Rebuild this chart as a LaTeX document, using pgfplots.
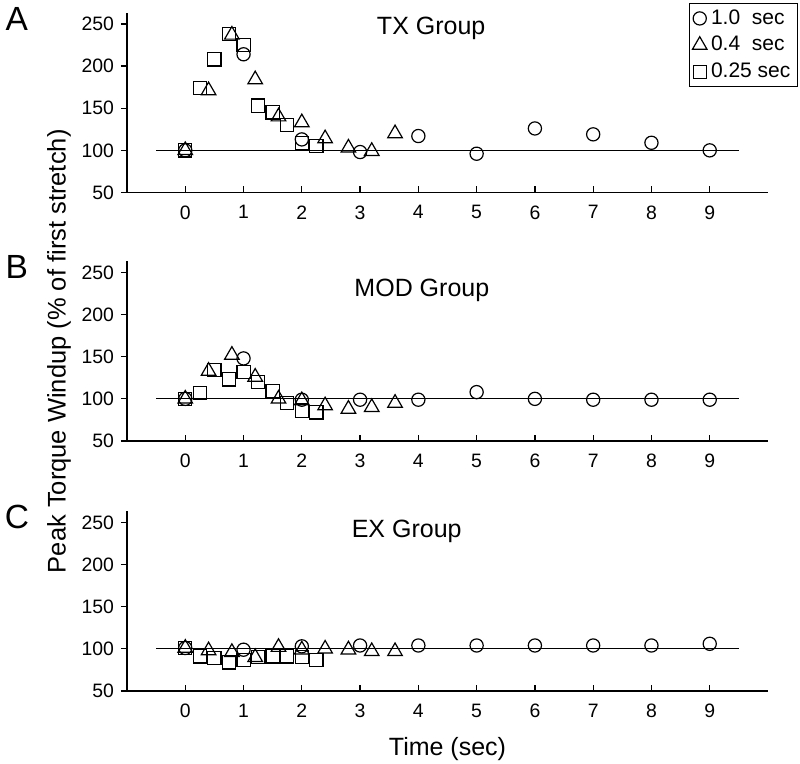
\documentclass[border=0pt]{standalone}
\usepackage{fontspec}
\setmainfont{Liberation Sans}
\usepackage{pgfplots}
\pgfplotsset{compat=1.18}
\pgfplotsset{
  panel/.style={
    scale only axis, width=320.5pt, height=89.75pt,
    xmin=-1, xmax=10, ymin=50, ymax=263,
    axis x line=bottom, axis y line=left,
    axis line style={-, line width=0.6pt},
    xtick={0,...,9}, ytick={50,100,...,250},
    xtick align=inside, ytick align=outside,
    major tick length=3pt,
    tick style={black, line width=0.6pt},
    tick label style={font=\fontsize{9.7}{11}\selectfont},
    xticklabel style={yshift=-3pt},
    /pgf/number format/assume math mode=true,
    clip=false,
  },
  circ/.style={only marks, mark=o, mark size=3.3pt, mark options={line width=0.6pt, draw=black, fill=none}},
  tri/.style={only marks, mark=triangle, mark size=4.2pt, mark options={line width=0.6pt, draw=black, fill=none}},
  sq/.style={only marks, mark=square, mark size=3.3pt, mark options={line width=0.6pt, draw=black, fill=none}},
  refline/.style={black, line width=0.6pt, no marks, forget plot},
}
\begin{document}
\begin{tikzpicture}
\useasboundingbox (0pt,0pt) rectangle (400pt,-382pt);
% Panel A
\begin{axis}[panel, at={(63.5pt,-96.25pt)}, anchor=south west,
  legend style={at={(axis description cs:1.0468,1.0557)}, anchor=north east,
    font=\fontsize{10.5}{12}\selectfont, draw=black, line width=0.6pt,
    row sep=0.5pt, inner xsep=1.5pt, inner ysep=1pt},
  legend cell align=left,
  legend image code/.code={\draw[#1] plot coordinates {(0.1cm,0cm)};}]
\addplot[refline] coordinates {(-0.5,100) (9.5,100)};
\addplot[circ] coordinates {(0,100)(1,214)(2,113)(3,98)(4,117)(5,96)(6,126)(7,119)(8,109)(9,100)};
\addlegendentry{1.0\ \ sec}
\addplot[tri] coordinates {(0,100)(0.4,171)(0.8,237)(1.2,184)(1.6,140)(2,133)(2.4,114)(2.8,103)(3.2,99)(3.6,120)};
\addlegendentry{0.4\ \ sec}
\addplot[sq] coordinates {(0,100)(0.25,174)(0.5,208)(0.75,238)(1,225)(1.25,153)(1.5,145)(1.75,130)(2,109)(2.25,105)};
\addlegendentry{0.25 sec}
\node[font=\fontsize{12.5}{14}\selectfont] at (axis cs:4.22,245) {TX Group};
\node[font=\fontsize{16.75}{18}\selectfont] at (axis cs:-2.89,256) {A};
\end{axis}
% Panel B
\begin{axis}[panel, at={(63.5pt,-220.5pt)}, anchor=south west,
  ylabel={Peak Torque Windup (\% of first stretch)},
  ylabel style={at={(axis description cs:-0.106,0.5)}, anchor=center, font=\fontsize{12.75}{14}\selectfont}]
\addplot[refline] coordinates {(-0.5,100) (9.5,100)};
\addplot[circ] coordinates {(0,100)(1,148)(2,99)(3,99)(4,99)(5,108)(6,100)(7,99)(8,99)(9,99)};
\addplot[tri] coordinates {(0,100)(0.4,133)(0.8,152)(1.2,126)(1.6,100)(2,98)(2.4,92)(2.8,88)(3.2,90)(3.6,95)};
\addplot[sq] coordinates {(0,100)(0.25,107)(0.5,134)(0.75,123)(1,132)(1.25,120)(1.5,109)(1.75,95)(2,86)(2.25,84)};
\node[font=\fontsize{12.5}{14}\selectfont] at (axis cs:4.06,229) {MOD Group};
\node[font=\fontsize{16.75}{18}\selectfont] at (axis cs:-2.89,256) {B};
\end{axis}
% Panel C
\begin{axis}[panel, at={(63.5pt,-345.5pt)}, anchor=south west,
  xlabel={Time (sec)},
  xlabel style={at={(axis description cs:0.5,-0.323)}, anchor=center, font=\fontsize{12.5}{14}\selectfont}]
\addplot[refline] coordinates {(-0.5,100) (9.5,100)};
\addplot[circ] coordinates {(0,101)(1,99)(2,103)(3,104)(4,104)(5,104)(6,104)(7,104)(8,104)(9,106)};
\addplot[tri] coordinates {(0,101)(0.4,98)(0.8,96)(1.2,90)(1.6,102)(2,99)(2.4,100)(2.8,99)(3.2,97)(3.6,97)};
\addplot[sq] coordinates {(0,101)(0.25,91)(0.5,89)(0.75,84)(1,87)(1.25,90)(1.5,91)(1.75,91)(2,90)(2.25,87)};
\node[font=\fontsize{12.5}{14}\selectfont] at (axis cs:3.8,240) {EX Group};
\node[font=\fontsize{16.75}{18}\selectfont] at (axis cs:-2.89,256) {C};
\end{axis}
\end{tikzpicture}
\end{document}
